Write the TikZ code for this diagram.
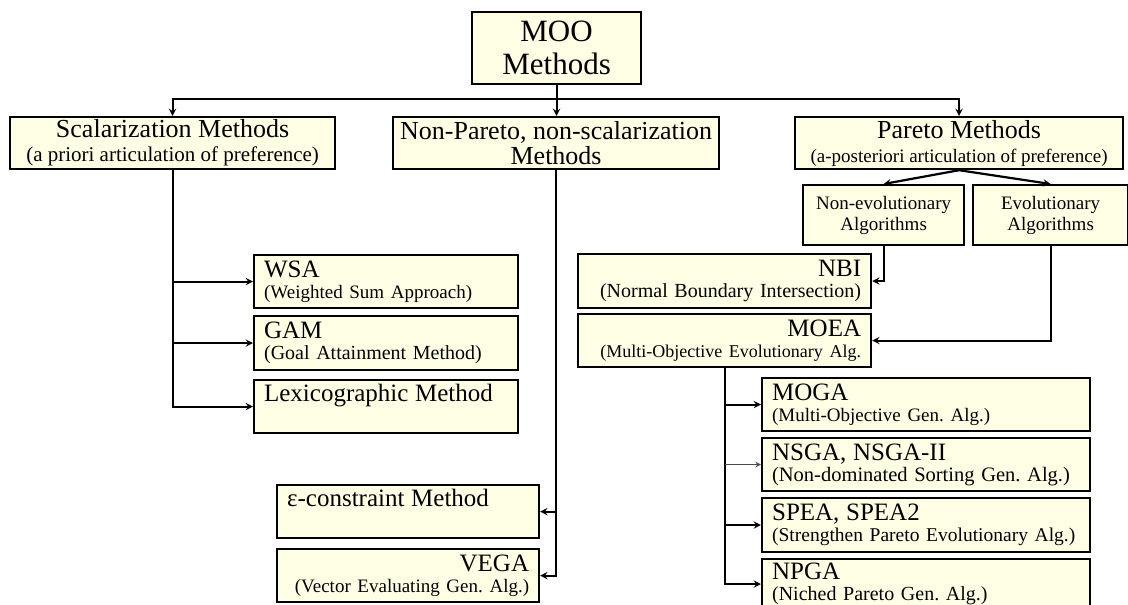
\documentclass[tikz,border=0pt]{standalone}
\usepackage{fontspec}
\setmainfont{Liberation Serif}
\usepackage{tikz}
\usetikzlibrary{positioning}
\usetikzlibrary{arrows}
\definecolor{boxfill}{RGB}{255,255,229}
\tikzstyle{arrow} = [line width=2.2pt,->,>=stealth]
\tikzstyle{thinarrow} = [line width=1.5pt,->,>=stealth,gray!60!black]
\newcommand{\headfont}{\fontsize{26}{24}\selectfont}
\newcommand{\itemfont}{\fontsize{25}{21}\selectfont}
\frenchspacing

\begin{document}
\begin{tikzpicture}[
			x = 1pt, y = -1pt,
			box/.style = {draw, line width = 2.2pt, fill = boxfill, anchor = north west, inner xsep = 10pt, inner ysep = 0pt},
			leftbox/.style = {box, text width = #1, align = left, font = \fontsize{20}{21}\selectfont},
			rightbox/.style = {box, text width = #1, align = right, font = \fontsize{20}{21}\selectfont}
			]
				\clip (0,0) rectangle (1128,605);
				\fill[white] (0,0) rectangle (1128,605);

				% Top levels
				\node[box, minimum width = 169pt, minimum height = 72pt, align = center, font = \fontsize{31}{33}\selectfont] (MOO) at (471,11) {MOO\\Methods};
				\node[box, minimum width = 325pt, minimum height = 52pt, align = center, font = \fontsize{21}{24}\selectfont] (Scal) at (9,116) {{\headfont Scalarization Methods}\\(a priori articulation of preference)};
				\node[box, minimum width = 326pt, minimum height = 52pt, inner xsep = 3pt, align = center, font = \fontsize{26}{25}\selectfont] (NonPar) at (392,116) {Non-Pareto, non-scalarization\\Methods};
				\node[box, minimum width = 328pt, minimum height = 52pt, align = center, font = \fontsize{19}{24}\selectfont] (Par) at (794,116) {{\headfont Pareto Methods}\\(a-posteriori articulation of preference)};

				% Pareto groups
				\node[box, minimum width = 161pt, minimum height = 60pt, align = center, font = \fontsize{19}{21}\selectfont] (NonEvo) at (802,184) {Non-evolutionary\\Algorithms};
				\node[box, minimum width = 155pt, minimum height = 60pt, align = center, font = \fontsize{19}{21}\selectfont] (Evo) at (972,184) {Evolutionary\\Algorithms};

				% Scalarization methods
				\node[leftbox = 244pt, minimum height = 53pt] (WSA) at (253,254) {{\itemfont WSA}\\{\fontsize{19}{21}\selectfont (Weighted Sum Approach)}};
				\node[leftbox = 244pt, minimum height = 54pt] (GAM) at (253,315) {{\itemfont GAM}\\(Goal Attainment Method)};
				\node[leftbox = 244pt, minimum height = 53pt] (Lex) at (253,379) {{\itemfont Lexicographic Method}\\\strut};

				% Non-Pareto methods
				\node[leftbox = 242pt, minimum height = 53pt] (Eps) at (276,484) {{\itemfont ε-constraint Method}\\\strut};
				\node[rightbox = 242pt, minimum height = 53pt] (VEGA) at (276,548) {{\itemfont VEGA}\\{\fontsize{19}{21}\selectfont (Vector Evaluating Gen. Alg.)}};

				% Pareto methods
				\node[rightbox = 273pt, minimum height = 54pt] (NBI) at (577,253) {{\itemfont NBI}\\(Normal Boundary Intersection)};
				\node[rightbox = 273pt, minimum height = 53pt] (MOEA) at (577,313) {{\itemfont MOEA}\\{\fontsize{18}{21}\selectfont (Multi-Objective Evolutionary Alg.}};
				\node[leftbox = 308pt, minimum height = 53pt] (MOGA) at (761,377) {{\itemfont MOGA}\\{\fontsize{19}{21}\selectfont (Multi-Objective Gen. Alg.)}};
				\node[leftbox = 308pt, minimum height = 53pt] (NSGA) at (761,437) {{\itemfont NSGA, NSGA-II}\\{\fontsize{20.5}{21}\selectfont (Non-dominated Sorting Gen. Alg.)}};
				\node[leftbox = 308pt, minimum height = 54pt] (SPEA) at (761,497) {{\itemfont SPEA, SPEA2}\\{\fontsize{19.5}{21}\selectfont (Strengthen Pareto Evolutionary Alg.)}};
				\node[leftbox = 308pt, minimum height = 50pt] (NPGA) at (761,558) {{\itemfont NPGA}\\(Niched Pareto Gen. Alg.)};

				% Connectors
				\coordinate (bus) at (0,99);
				\draw[arrow] (MOO.south) -- (MOO.south |- NonPar.north);
				\draw[arrow] (MOO.south |- bus) -| (Scal.north);
				\draw[arrow] (MOO.south |- bus) -| (Par.north);

				\draw[arrow] (Scal.south) |- (Lex.west);
				\draw[arrow] (Scal.south |- WSA.west) -- (WSA.west);
				\draw[arrow] (Scal.south |- GAM.west) -- (GAM.west);

				\draw[arrow] (NonPar.south) |- (VEGA.east);
				\draw[arrow] (NonPar.south |- Eps.east) -- (Eps.east);

				\draw[arrow] (Par.south) -- (NonEvo.north);
				\draw[arrow] (Par.south) -- (Evo.north);
				\draw[arrow] (NonEvo.south) |- (NBI.east);
				\draw[arrow] (Evo.south) |- (MOEA.east);

				\draw[arrow] (MOEA.south) |- (NPGA.west);
				\draw[arrow] (MOEA.south |- MOGA.west) -- (MOGA.west);
				\draw[thinarrow] (MOEA.south |- NSGA.west) -- (NSGA.west);
				\draw[arrow] (MOEA.south |- SPEA.west) -- (SPEA.west);
			\end{tikzpicture}
\end{document}
